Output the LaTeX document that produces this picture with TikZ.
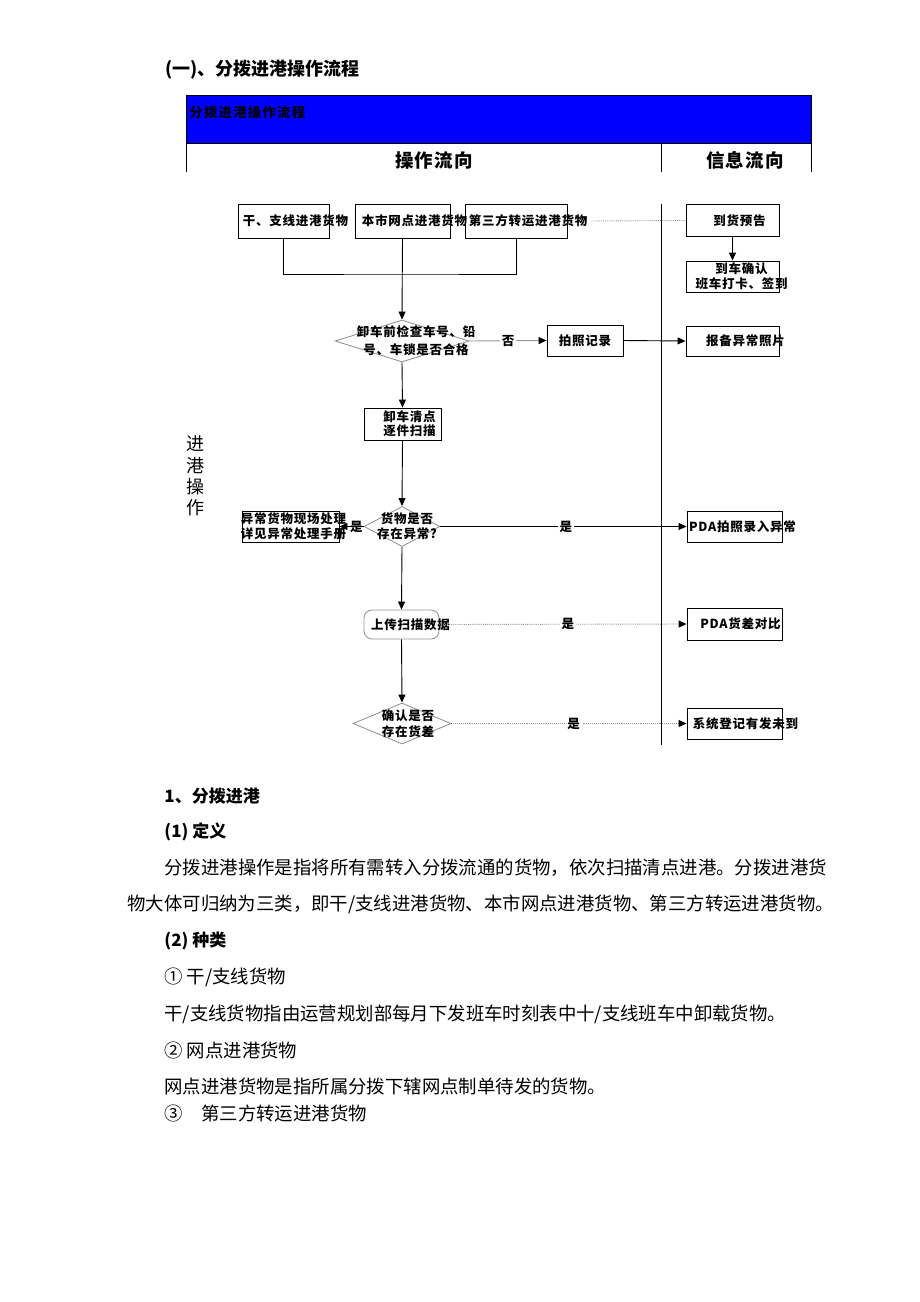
\documentclass[tikz,border=0pt]{standalone}
\usepackage{fontspec}
\usetikzlibrary{shapes.geometric,arrows.meta}
\setmainfont{Noto Sans CJK SC}
\newfontfamily\boxfont[LetterSpace=6]{Noto Sans CJK SC}
\newfontfamily\barfont[LetterSpace=10]{Noto Sans CJK SC}
\definecolor{headblue}{RGB}{0,0,255}
\definecolor{linegray}{RGB}{150,150,150}
\tikzset{
  box/.style={draw, rectangle, inner sep=0, minimum height=31, font=\boxfont\bfseries\fontsize{12.5}{15}\selectfont, align=center},
  dbox/.style={draw=linegray, diamond, inner sep=0},
  lab/.style={inner sep=0, font=\boxfont\bfseries\fontsize{12.5}{15}\selectfont, align=center},
  arr/.style={-{Triangle[length=8,width=7]}},
  garr/.style={draw=linegray, -{Triangle[length=8,width=7,color=black]}},
  body/.style={anchor=west, inner sep=0, font=\fontsize{18.4}{22}\selectfont},
  bhead/.style={anchor=west, inner sep=0, font=\bfseries\fontsize{17}{20}\selectfont}
}
\begin{document}
\begin{tikzpicture}[x=1pt,y=-1pt,line width=0.9]
\useasboundingbox (0,0) rectangle (920,1302);
\node[bhead, font=\bfseries\fontsize{18}{20}\selectfont] (title) at (165,70) {(一)、分拨进港操作流程};
\fill[headblue] (186,95) rectangle (811,143);
\draw (186,172) -- (186,95) -- (811,95) -- (811,172);
\draw (186,143) -- (811,143);
\draw (661,143) -- (661,172);
\node[lab, anchor=west, font=\barfont\bfseries\fontsize{13.3}{15}\selectfont] (bar) at (189,112) {分拨进港操作流程};
\node[lab, font=\boxfont\bfseries\fontsize{18.5}{20}\selectfont] (op) at (434,160) {操作流向};
\node[lab, font=\boxfont\bfseries\fontsize{18.5}{20}\selectfont] (info) at (745,160) {信息流向};
\draw[line width=0.7] (661,204) -- (661,745);
\node[inner sep=0, align=center, font=\fontsize{18}{21.3}\selectfont] (side) at (195,476) {进\\港\\操\\作};

\node[box, minimum width=91, minimum height=34, label={[lab,xshift=12]center:干、支线进港货物}] (b1) at (283.5,221) {};
\node[box, minimum width=95, minimum height=34, label={[lab,xshift=12]center:本市网点进港货物}] (b2) at (402.5,221) {};
\node[box, minimum width=102, minimum height=34, label={[lab,xshift=12]center:第三方转运进港货物}] (b3) at (516,221) {};
\node[box, minimum width=93, minimum height=32, label={[lab,xshift=7]center:到货预告}] (pre) at (732.5,220.5) {};
\node[box, minimum width=93, label={[lab,xshift=9]center:{到车确认\\班车打卡、签到}}] (car) at (732.5,276.5) {};
\node[dbox, minimum width=134, minimum height=42, label={[lab,xshift=14,font=\boxfont\bfseries\fontsize{12.5}{18}\selectfont]center:{卸车前检查车号、铅\\号、车锁是否合格}}] (d1) at (402,341) {};
\node[box, minimum width=76] (photo) at (585,340.5) {拍照记录};
\node[box, minimum width=93, minimum height=30, label={[lab,xshift=13]center:报备异常照片}] (rep) at (732.5,341) {};
\node[box, minimum width=77, minimum height=32, label={[lab,xshift=7,font=\boxfont\bfseries\fontsize{12.5}{14}\selectfont]center:{卸车清点\\逐件扫描}}] (unl) at (402.5,424) {};
\node[dbox, minimum width=76, minimum height=40, label={[lab,xshift=5]center:{货物是否\\存在异常?}}] (d2) at (402,526.5) {};
\node[box, minimum width=97, label={[lab,xshift=3]center:{异常货物现场处理\\详见异常处理手册}}] (exc) at (290.5,526.5) {};
\node[box, minimum width=95, label={[lab,xshift=8]center:PDA拍照录入异常}] (pda1) at (734.5,526.5) {};
\node[draw=linegray, rectangle, rounded corners=8, inner sep=0, minimum width=75, minimum height=29, label={[lab,xshift=9]center:上传扫描数据}] (up) at (401.5,624.5) {};
\node[box, minimum width=95, minimum height=32, label={[lab,xshift=6]center:PDA货差对比}] (pda2) at (734.5,624) {};
\node[dbox, minimum width=98, minimum height=41, label={[lab,xshift=6,font=\boxfont\bfseries\fontsize{12.5}{16}\selectfont]center:{确认是否\\存在货差}}] (d3) at (402,723.5) {};
\node[box, minimum width=95, label={[lab,xshift=11]center:系统登记有发未到}] (sys) at (734.5,723.5) {};

\coordinate (j) at (402.5,274);
\draw (b1.south) |- (j) -| (b3.south);
\draw[arr] (b2.south) -- (d1.north);
\draw[linegray, densely dotted] ([xshift=24]b3.east) -- (pre.west);
\draw[arr] (pre.south) -- (car.north);
\draw[garr] (d1.east) -- node[lab, fill=white, inner sep=2, pos=0.5] (no) {否} (photo.west);
\draw[arr] (photo.east) -- (rep.west);
\draw[arr] (d1.south) -- (unl.north);
\draw[arr] (unl.south) -- (d2.north);
\draw[arr] (d2.west) -- node[lab, pos=0.3] (y1) {是} (exc.east);
\draw[arr] (d2.east) -- node[lab, fill=white, inner sep=2, pos=0.51] (y2) {是} (pda1.west);
\draw[arr] (d2.south) -- (up.north);
\draw[garr, densely dotted] (up.east) -- node[lab, fill=white, inner sep=2, pos=0.52] (y3) {是} (pda2.west);
\draw[arr] (up.south) -- (d3.north);
\draw[garr, densely dotted] (d3.east) -- node[lab, fill=white, inner sep=2, pos=0.52] (y4) {是} (sys.west);

\node[bhead] (s1) at (164,796) {1、分拨进港};
\node[bhead] (s2) at (164,832) {(1) 定义};
\node[body] (p1) at (164,868) {分拨进港操作是指将所有需转入分拨流通的货物，依次扫描清点进港。分拨进港货};
\node[body] (p2) at (127,904) {物大体可归纳为三类，即干/支线进港货物、本市网点进港货物、第三方转运进港货物。};
\node[bhead] (s3) at (164,941) {(2) 种类};
\node[body] (k1) at (164,977) {① 干/支线货物};
\node[body] (p3) at (164,1014) {干/支线货物指由运营规划部每月下发班车时刻表中十/支线班车中卸载货物。};
\node[body] (k2) at (164,1050) {② 网点进港货物};
\node[body] (p4) at (164,1086) {网点进港货物是指所属分拨下辖网点制单待发的货物。};
\node[body] (k3) at (164,1113) {③\quad 第三方转运进港货物};
\end{tikzpicture}
\end{document}
